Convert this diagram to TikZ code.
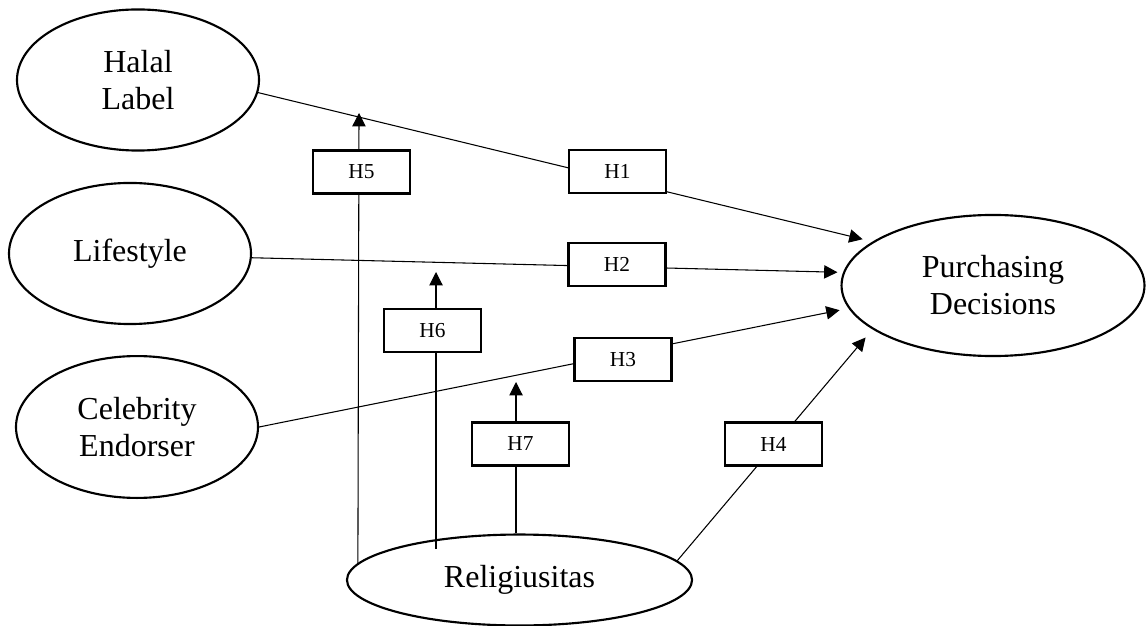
\documentclass[tikz,border=0pt]{standalone}
\usepackage{fontspec}
\setmainfont{Liberation Serif}
\usetikzlibrary{shapes}
\usetikzlibrary{arrows.meta}
\usetikzlibrary{backgrounds}
\begin{document}
\begin{tikzpicture}[x=0.375pt,y=-0.375pt,
  var/.style={draw,ellipse,line width=0.8pt,inner sep=0pt,align=center,font=\fontsize{12}{13.9}\selectfont},
  hyp/.style={draw,rectangle,fill=white,line width=0.85pt,minimum width=36.4pt,minimum height=16.1pt,inner sep=0pt,font=\fontsize{8}{9.5}\selectfont},
  arr/.style={-{Triangle[length=5pt,width=5pt]},line width=0.4pt}]
\useasboundingbox (0,0) rectangle (1146,626);
\node [var,minimum width=90.75pt,minimum height=52.9pt] (halal) at (138,80) {Halal\\Label};
\node [var,minimum width=90.75pt,minimum height=52.9pt] (life) at (130,253.5) {Lifestyle};
\node [var,minimum width=90.75pt,minimum height=53.2pt] (celeb) at (137,427) {Celebrity\\Endorser};
\node [var,minimum width=113.6pt,minimum height=52.9pt] (purch) at (993,285.5) {Purchasing\\Decisions};
\node [var,minimum width=129.4pt,minimum height=34.1pt] (rel) at (519.5,580) {Religiusitas};
\node [hyp] (h1) at (617.5,171.5) {H1};
\node [hyp] (h2) at (617,264.5) {H2};
\node [hyp] (h3) at (623,359.5) {H3};
\node [hyp] (h4) at (773.5,444) {H4};
\node [hyp] (h5) at (361.5,172) {H5};
\node [hyp] (h6) at (432.5,330.5) {H6};
\node [hyp] (h7) at (520.5,444) {H7};
\coordinate (t5) at (359,113);
\coordinate (b6) at (436,549);
\coordinate (t6) at (436,272);
\coordinate (t7) at (516,382);
\begin{scope}[on background layer]
\draw [arr,shorten >=3.8pt] (halal.-6) -- (purch.160);
\draw [arr,shorten >=2.1pt] (life.-2) -- (purch.175);
\draw [arr,shorten >=3.4pt] (celeb.east) -- (purch.-171);
\draw [arr,shorten >=4pt] (rel.7) -- (purch.-160);
\draw [arr] (rel.174) -- (t5);
\draw [arr] (b6) -- (t6);
\draw [arr] (rel.north -| t7) -- (t7);
\end{scope}
\end{tikzpicture}
\end{document}
